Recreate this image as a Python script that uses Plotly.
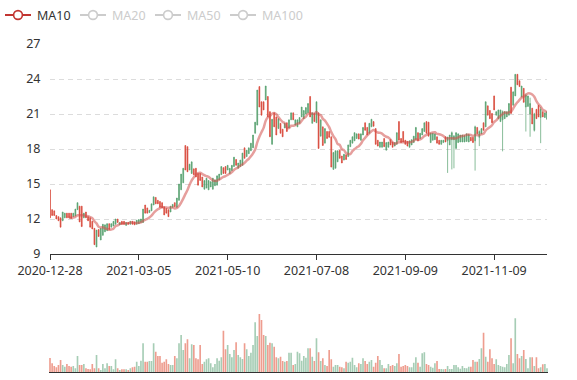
import plotly.graph_objects as go

# ---------------- data ----------------
tick_labels = ["2020-12-28", "2021-03-05", "2021-05-10", "2021-07-08", "2021-09-09", "2021-11-09"]
tick_index = [0, 42, 84, 126, 168, 210]

open_ = [
    14.5, 12.8, 12.7, 12.3, 12.2, 12.1, 11.85, 12.1, 12.5, 12.5,
    12.5, 12.2, 12.25, 12.8, 13.1, 13.1, 12.1, 12.6, 12.2, 12.1,
    11.8, 11.2, 9.6, 11.1, 10.2, 10.6, 10.9, 11.0, 11.6, 11.3,
    11.4, 11.55, 12.0, 11.5, 11.8, 11.8, 11.45, 11.7, 11.55, 11.8,
    11.75, 11.55, 11.6, 11.7, 11.7, 13.2, 12.95, 12.55, 12.7, 13.2,
    13.85, 13.6, 13.5, 13.4, 13.05, 12.9, 12.8, 12.6, 13.0, 13.4,
    13.0, 13.6, 14.5, 15.1, 18.3, 18.2, 16.2, 15.9, 16.3, 16.35,
    15.9, 15.9, 15.6, 14.55, 14.65, 14.5, 14.75, 14.55, 14.85, 14.9,
    15.35, 15.8, 16.4, 16.5, 16.2, 15.9, 16.15, 16.5, 17.1, 16.35,
    16.5, 16.6, 18.1, 17.35, 17.6, 17.85, 18.1, 19.35, 20.05, 23.35,
    22.05, 22.05, 22.2, 22.5, 21.2, 18.4, 21.1, 20.75, 19.75, 20.2,
    19.7, 19.8, 20.25, 19.8, 20.5, 21.1, 20.05, 19.9, 20.2, 20.75,
    20.6, 21.0, 21.1, 22.5, 20.2, 21.05, 20.25, 21.1, 19.1, 19.9,
    18.5, 19.5, 19.5, 19.05, 16.25, 16.35, 16.9, 17.9, 17.4, 17.05,
    17.5, 17.35, 18.2, 18.5, 18.7, 18.9, 19.3, 18.75, 19.2, 20.25,
    19.85, 19.35, 19.9, 20.35, 19.75, 18.75, 18.15, 18.15, 18.9, 17.9,
    18.15, 18.8, 18.6, 18.25, 18.4, 20.35, 18.9, 19.5, 18.75, 18.65,
    18.15, 18.35, 18.55, 18.8, 19.4, 18.9, 19.2, 19.5, 20.35, 20.3,
    18.55, 18.75, 18.8, 19.05, 18.75, 18.4, 18.55, 19.05, 18.7, 18.35,
    18.8, 18.8, 18.05, 18.55, 18.6, 18.6, 18.6, 18.65, 18.6, 19.0,
    19.0, 18.7, 19.85, 19.0, 19.3, 20.25, 19.9, 21.7, 21.3, 21.05,
    22.55, 20.9, 20.6, 20.35, 20.5, 20.6, 20.75, 20.9, 23.3, 21.75,
    22.55, 24.4, 23.85, 22.45, 23.2, 21.6, 21.65, 21.0, 21.5, 19.6,
    21.4, 21.75, 20.7, 21.2, 20.7, 20.55,
]

close_ = [
    12.1, 12.3, 12.3, 12.0, 11.85, 11.3, 12.6, 12.5, 12.1, 12.1,
    12.05, 12.5, 12.85, 13.4, 11.75, 11.35, 12.5, 12.1, 11.85, 11.3,
    11.15, 9.8, 11.05, 10.5, 11.2, 11.55, 11.5, 11.6, 11.1, 11.6,
    11.8, 12.0, 11.7, 11.7, 11.55, 11.55, 11.7, 11.55, 11.8, 11.55,
    11.5, 11.9, 11.95, 12.0, 12.85, 12.5, 12.5, 12.75, 13.3, 13.9,
    13.3, 13.3, 13.0, 12.95, 12.35, 12.5, 12.2, 13.1, 13.25, 13.05,
    13.8, 15.0, 15.85, 16.35, 16.2, 16.05, 16.7, 16.9, 15.8, 15.6,
    14.9, 15.3, 14.75, 15.3, 15.5, 15.3, 15.2, 15.5, 15.35, 15.7,
    15.85, 16.5, 15.9, 15.9, 16.6, 16.35, 16.6, 17.3, 16.6, 16.8,
    17.05, 17.65, 17.2, 17.9, 18.1, 18.5, 19.2, 20.3, 23.05, 21.6,
    20.9, 21.35, 23.4, 20.75, 19.05, 20.55, 19.9, 19.2, 20.6, 19.35,
    19.05, 20.2, 19.5, 20.5, 21.1, 20.5, 20.5, 20.5, 20.7, 21.6,
    21.3, 21.55, 21.9, 20.75, 21.1, 20.35, 22.05, 18.05, 20.5, 18.3,
    19.75, 18.9, 19.0, 16.45, 17.7, 17.85, 17.85, 17.2, 16.8, 17.55,
    17.1, 18.35, 18.75, 19.05, 19.4, 19.3, 18.85, 19.3, 19.85, 19.6,
    19.2, 20.2, 20.55, 19.95, 18.4, 18.25, 18.6, 18.6, 18.2, 18.55,
    18.6, 18.35, 18.15, 18.55, 19.4, 18.75, 18.55, 18.6, 18.4, 18.25,
    18.7, 18.8, 19.1, 19.85, 18.7, 19.35, 19.75, 20.25, 19.35, 19.1,
    19.35, 19.35, 19.3, 18.5, 18.4, 18.75, 18.75, 18.6, 19.0, 19.2,
    19.4, 19.1, 19.4, 19.3, 19.2, 19.2, 19.15, 19.3, 19.25, 18.7,
    18.55, 19.9, 19.3, 19.5, 19.75, 19.6, 22.05, 20.9, 20.6, 20.25,
    21.35, 21.2, 21.35, 21.35, 21.2, 21.2, 21.2, 21.9, 21.05, 22.9,
    24.4, 23.5, 23.35, 23.4, 22.0, 22.6, 22.55, 21.9, 20.15, 21.0,
    20.6, 20.75, 21.4, 20.75, 21.1, 21.2,
]

# long shadows (index -> price)
wick_low = {188: 15.95, 190: 16.25, 191: 16.35, 201: 16.15, 203: 18.25,
            214: 17.8, 225: 19.5, 227: 19.05, 229: 19.5, 232: 18.5}
wick_high = {188: 19.05, 190: 19.5, 191: 19.2, 201: 20.0, 203: 19.6,
             214: 21.3, 225: 22.75, 227: 22.4, 229: 21.1, 232: 21.6}

volume = [
    43, 27, 19, 15, 22, 37, 22, 17, 25, 19,
    17, 19, 12, 49, 22, 22, 25, 12, 10, 9,
    25, 12, 52, 12, 7, 25, 12, 27, 19, 19,
    9, 39, 12, 7, 9, 9, 9, 7, 12, 15,
    17, 32, 19, 35, 87, 32, 32, 34, 34, 87,
    62, 49, 49, 29, 32, 39, 25, 22, 22, 49,
    42, 87, 112, 67, 87, 99, 42, 84, 82, 42,
    39, 82, 25, 32, 39, 42, 27, 15, 25, 42,
    35, 45, 125, 69, 82, 55, 45, 67, 90, 52,
    45, 40, 87, 69, 49, 59, 82, 150, 109, 175,
    157, 112, 109, 82, 89, 87, 77, 45, 42, 47,
    34, 32, 34,
    59, 59, 22, 25, 62, 57, 35, 49, 44, 72,
    72, 47, 34, 102, 60, 34, 42, 22, 19, 67,
    39, 17, 22, 22, 17, 15, 12, 32, 29, 32,
    44, 22, 15, 27, 25, 42, 34, 25, 32, 37,
    17, 29, 49, 37, 22, 12, 12, 25, 19, 22,
    19, 27, 55, 17, 19, 22, 19, 15, 15, 29,
    45, 29, 17, 57, 60, 25, 22, 17, 14, 27,
    34, 10, 10, 9, 10, 19, 10, 10, 22, 22,
    15, 11, 19, 13, 12, 17, 17, 37, 32, 32,
    40, 72, 119, 47, 32, 69, 42, 25, 39, 22,
    19, 17, 15, 25, 52, 102, 27, 162, 55, 42,
    49, 67, 40, 12, 45, 45, 19, 45, 12, 15,
    24, 25, 12,
]

legend_names = ["MA10", "MA20", "MA50", "MA100"]

# ---------------- derived ----------------
n = len(close_)
idx = list(range(n))
high_ = [wick_high.get(i, max(o, c)) for i, (o, c) in enumerate(zip(open_, close_))]
low_ = [wick_low.get(i, min(o, c)) for i, (o, c) in enumerate(zip(open_, close_))]
ma10 = [None] * 9 + [round(sum(close_[i - 9:i + 1]) / 10, 3) for i in range(9, n)]

UP = "#56a06f"
DOWN = "#d8473a"
VUP = "#a6cdb5"
VDOWN = "#ee9d8f"
vcolors = [VDOWN if c < o else VUP for o, c in zip(open_, close_)]

FONT = "Noto Sans"
W, H = 577, 380

fig = go.Figure()
fig.add_trace(go.Candlestick(
    x=idx, open=open_, high=high_, low=low_, close=close_,
    increasing=dict(line=dict(color=UP, width=0.7), fillcolor=UP),
    decreasing=dict(line=dict(color=DOWN, width=0.7), fillcolor=DOWN),
    whiskerwidth=0, showlegend=False, name="K", hoverinfo="skip",
    xaxis="x", yaxis="y",
))
fig.add_trace(go.Scatter(
    x=idx, y=ma10, mode="lines", name="MA10", showlegend=False,
    line=dict(color="rgba(210,80,76,0.55)", width=2.5, shape="spline", smoothing=0.8),
    xaxis="x", yaxis="y", hoverinfo="skip",
))
fig.add_trace(go.Bar(
    x=idx, y=volume, marker=dict(color=vcolors, line=dict(width=0)),
    width=0.78, showlegend=False, name="Volume", xaxis="x2", yaxis="y2",
    hoverinfo="skip",
))

x_left, x_right = 50, 547
unit = (x_right - x_left) / (n - 1)

fig.update_layout(
    template="none",
    width=W, height=H, autosize=False,
    margin=dict(l=0, r=0, t=0, b=0, pad=0, autoexpand=False),
    paper_bgcolor="white", plot_bgcolor="white",
    font=dict(family=FONT, size=12.5, color="#333"),
    boxgap=0.45,
    xaxis=dict(
        domain=[x_left / W, x_right / W], range=[0, n - 1], automargin=False,
        tickmode="array", tickvals=tick_index, ticktext=tick_labels,
        ticks="outside", ticklen=5, tickcolor="#333", tickwidth=1,
        showline=True, linecolor="#333", linewidth=1, mirror=False,
        showgrid=False, zeroline=False, rangeslider=dict(visible=False),
        anchor="y", tickfont=dict(family=FONT, size=12.5, color="#333"),
    ),
    yaxis=dict(
        domain=[(H - 254) / H, (H - 44) / H], range=[9, 27], automargin=False,
        tick0=9, dtick=3, showgrid=True, gridcolor="#dcdcdc", griddash="5px,4px",
        gridwidth=1, showline=False, zeroline=False,
        ticks="outside", ticklen=6, tickcolor="rgba(0,0,0,0)",
        anchor="x", tickfont=dict(family=FONT, size=12.5, color="#333"),
    ),
    xaxis2=dict(
        domain=[(x_left - 0.5 * unit) / W, (x_right + 0.5 * unit) / W], automargin=False,
        range=[-0.5, n - 0.5], anchor="y2",
        showline=True, linecolor="#333", linewidth=1,
        showticklabels=False, ticks="", showgrid=False, zeroline=False,
        rangeslider=dict(visible=False),
    ),
    yaxis2=dict(
        domain=[(H - 372.3) / H, (H - 300) / H], range=[0, 217], automargin=False,
        visible=False, anchor="x2",
    ),
    showlegend=False,
)

# legend drawn as in the reference (MA10 active, others toggled off)
legend_x = [5, 80, 155, 230]
legend_col = ["#c23531", "#cccccc", "#cccccc", "#cccccc"]
text_col = ["#333333", "#cccccc", "#cccccc", "#cccccc"]
ly = 15
shapes = []
annotations = []
for name, x0, lc, tc in zip(legend_names, legend_x, legend_col, text_col):
    shapes.append(dict(type="line", xref="paper", yref="paper",
                       x0=x0 / W, x1=(x0 + 26) / W, y0=1 - ly / H, y1=1 - ly / H,
                       line=dict(color=lc, width=2)))
    cx = x0 + 13
    r = 4.4
    shapes.append(dict(type="circle", xref="paper", yref="paper",
                       x0=(cx - r) / W, x1=(cx + r) / W,
                       y0=1 - (ly + r) / H, y1=1 - (ly - r) / H,
                       fillcolor="white", line=dict(color=lc, width=1.6)))
    annotations.append(dict(text=name, xref="paper", yref="paper",
                            x=(x0 + 30) / W, y=1 - ly / H, xanchor="left", yanchor="middle",
                            showarrow=False, font=dict(family=FONT, size=12.5, color=tc)))
fig.update_layout(shapes=shapes, annotations=annotations)

fig.write_html(
    "out.html",
    config={"displayModeBar": False, "staticPlot": True},
    post_script="document.body.style.margin='0';document.body.style.overflow='hidden';",
)
